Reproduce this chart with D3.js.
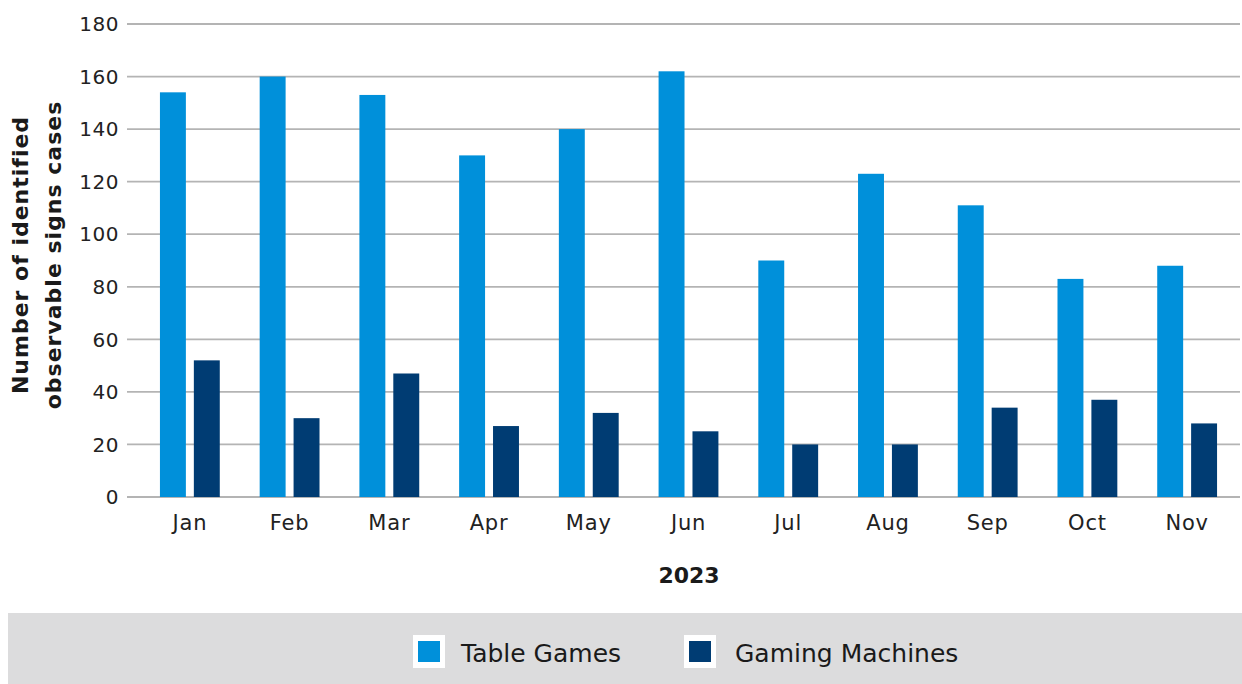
<!DOCTYPE html>
<html>
<head>
<meta charset="utf-8">
<script src="https://cdn.jsdelivr.net/npm/d3@7"></script>
<style>
  html, body { margin: 0; padding: 0; background: #fff; }
  svg { display: block; font-family: "DejaVu Sans", "Noto Sans", sans-serif; }
</style>
</head>
<body>
<svg id="chart" width="1242" height="684"></svg>
<script>
// Monthly counts of identified observable signs cases, 2023
const months = ["Jan", "Feb", "Mar", "Apr", "May", "Jun", "Jul", "Aug", "Sep", "Oct", "Nov"];
const seriesNames = ["Table Games", "Gaming Machines"];
const tableGames = [154, 160, 153, 130, 140, 162, 90, 123, 111, 83, 88];
const gamingMachines = [52, 30, 47, 27, 32, 25, 20, 20, 34, 37, 28];
const yTicks = [0, 20, 40, 60, 80, 100, 120, 140, 160, 180];
const seriesColors = ["#0090da", "#003c73"];

const svg = d3.select("#chart");
const W = 1242, H = 684;
const plot = { left: 127, right: 1240, top: 24, bottom: 497 };

const y = d3.scaleLinear().domain([0, 180]).range([plot.bottom, plot.top]);
const x0 = d3.scaleBand().domain(months).range([140, 1237]).paddingInner(0.4).paddingOuter(0.2);
const x1 = d3.scaleBand().domain(seriesNames).range([0, x0.bandwidth()]).paddingInner(0.235);
const color = d3.scaleOrdinal().domain(seriesNames).range(seriesColors);

// Horizontal grid lines
svg.append("g")
  .selectAll("line")
  .data(yTicks)
  .join("line")
  .attr("x1", plot.left)
  .attr("x2", plot.right)
  .attr("y1", d => y(d))
  .attr("y2", d => y(d))
  .attr("stroke", "#b4b4b4")
  .attr("stroke-width", 1.8);

// Y axis tick labels
svg.append("g")
  .selectAll("text")
  .data(yTicks)
  .join("text")
  .attr("x", 119)
  .attr("y", d => y(d))
  .attr("dy", "0.36em")
  .attr("text-anchor", "end")
  .attr("font-size", 20)
  .attr("letter-spacing", 0.5)
  .attr("fill", "#222")
  .text(d => d);

// Bars
const rows = months.map((m, i) => ({ month: m, values: [tableGames[i], gamingMachines[i]] }));
const groups = svg.append("g")
  .selectAll("g")
  .data(rows)
  .join("g")
  .attr("transform", d => `translate(${x0(d.month)},0)`);

groups.selectAll("rect")
  .data(d => seriesNames.map((s, j) => ({ series: s, value: d.values[j] })))
  .join("rect")
  .attr("x", d => x1(d.series))
  .attr("y", d => y(d.value))
  .attr("width", x1.bandwidth())
  .attr("height", d => y(0) - y(d.value))
  .attr("fill", d => color(d.series));

// Month labels
svg.append("g")
  .selectAll("text")
  .data(months)
  .join("text")
  .attr("x", d => x0(d) + x0.bandwidth() / 2)
  .attr("y", 530)
  .attr("text-anchor", "middle")
  .attr("font-size", 21)
  .attr("letter-spacing", 0.8)
  .attr("fill", "#222")
  .text(d => d);

// X axis title
svg.append("text")
  .attr("x", 689)
  .attr("y", 583)
  .attr("text-anchor", "middle")
  .attr("font-size", 22)
  .attr("font-weight", 700)
  .attr("fill", "#1a1a1a")
  .text("2023");

// Y axis title (two lines)
const yTitle = svg.append("text")
  .attr("transform", "translate(0,255) rotate(-90)")
  .attr("text-anchor", "middle")
  .attr("font-size", 22)
  .attr("font-weight", 700)
  .attr("letter-spacing", 1)
  .attr("fill", "#1a1a1a");
yTitle.append("tspan").attr("x", 0).attr("y", 28).text("Number of identified");
yTitle.append("tspan").attr("x", 0).attr("y", 61).text("observable signs cases");

// Legend
svg.append("rect")
  .attr("x", 8).attr("y", 613)
  .attr("width", W - 8).attr("height", H - 613)
  .attr("fill", "#dcdcdd");

const legendItems = [
  { name: seriesNames[0], x: 413, tx: 461 },
  { name: seriesNames[1], x: 684, tx: 735 }
];
const lg = svg.append("g")
  .selectAll("g")
  .data(legendItems)
  .join("g")
  .attr("transform", d => `translate(${d.x},635)`);
lg.append("rect")
  .attr("width", 32).attr("height", 33)
  .attr("fill", "#fff");
lg.append("rect")
  .attr("x", 5).attr("y", 6)
  .attr("width", 22).attr("height", 21)
  .attr("fill", d => color(d.name));
lg.append("text")
  .attr("x", d => d.tx - d.x)
  .attr("y", 26.5)
  .attr("font-size", 25)
  .attr("fill", "#1a1a1a")
  .text(d => d.name);
</script>
</body>
</html>
